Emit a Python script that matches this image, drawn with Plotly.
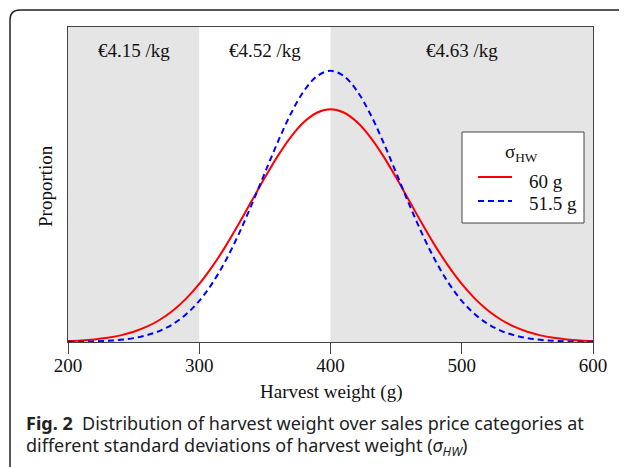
import plotly.graph_objects as go

# Harvest weight (g)
weight = [200, 210, 220, 230, 240, 250, 260, 270, 280, 290, 300, 310, 320, 330, 340, 350,
          360, 370, 380, 390, 400, 410, 420, 430, 440, 450, 460, 470, 480, 490, 500,
          510, 520, 530, 540, 550, 560, 570, 580, 590, 600]
# Proportion (x1000)
prop_60 = [0.026, 0.044, 0.074, 0.120, 0.190, 0.292, 0.437, 0.636, 0.900, 1.239, 1.658,
           2.159, 2.733, 3.367, 4.033, 4.698, 5.324, 5.868, 6.290, 6.557, 6.649,
           6.557, 6.290, 5.868, 5.324, 4.698, 4.033, 3.367, 2.733, 2.159, 1.658,
           1.239, 0.900, 0.636, 0.437, 0.292, 0.190, 0.120, 0.074, 0.044, 0.026]
prop_515 = [0.004, 0.009, 0.017, 0.033, 0.062, 0.111, 0.193, 0.320, 0.513, 0.792, 1.176,
            1.683, 2.318, 3.076, 3.930, 4.835, 5.729, 6.538, 7.184, 7.602, 7.747,
            7.602, 7.184, 6.538, 5.729, 4.835, 3.930, 3.076, 2.318, 1.683, 1.176,
            0.792, 0.513, 0.320, 0.193, 0.111, 0.062, 0.033, 0.017, 0.009, 0.004]
series_names = ["60 g", "51.5 g"]
series_colors = ["#ff0000", "#0000ff"]
series_dash = ["solid", "6px,4px"]

# Price categories
cat_bounds = [(200, 300), (300, 400), (400, 600)]
cat_labels = ["€4.15 /kg", "€4.52 /kg", "€4.63 /kg"]
cat_shaded = [True, False, True]
x_ticks = [200, 300, 400, 500, 600]

OFF = 8  # page body margin
W, H = 627 - OFF, 467 - OFF
L, R, T, B = 60, 34, 19, 125
pw, ph = W - L - R, H - T - B

def px(xp):
    return (xp - OFF - L) / pw

def py(yp):
    return ((H - B) - (yp - OFF)) / ph

serif = "Liberation Serif"
sans = "Noto Sans"
tc = "#111"

fig = go.Figure()
fig.add_trace(go.Scatter(x=weight, y=prop_60, mode="lines", name=series_names[0],
                         line=dict(color=series_colors[0], width=2, shape="spline")))
fig.add_trace(go.Scatter(x=weight, y=prop_515, mode="lines", name=series_names[1],
                         line=dict(color=series_colors[1], width=2, dash=series_dash[1],
                                   shape="spline")))

shapes = []
annotations = []
for (a, b), lab, sh in zip(cat_bounds, cat_labels, cat_shaded):
    if sh:
        shapes.append(dict(type="rect", xref="x", yref="paper", x0=a, x1=b, y0=0, y1=1,
                           fillcolor="#e5e5e5", line=dict(width=0), layer="below"))
    annotations.append(dict(x=(a + b) / 2, y=py(51), xref="x", yref="paper", text=lab,
                            showarrow=False, font=dict(family=serif, size=19, color=tc),
                            xanchor="center", yanchor="middle"))

# outer rounded frame
x0, yt = px(10), py(10)
rx, ry = 10 / pw, 10 / ph
path = (f"M {x0},{py(470)} L {x0},{yt - ry} Q {x0},{yt} {x0 + rx},{yt} "
        f"L {px(640)},{yt}")
shapes.append(dict(type="path", xref="paper", yref="paper", path=path,
                   line=dict(color="#222", width=1.5)))

# manual legend
shapes.append(dict(type="rect", xref="paper", yref="paper", x0=px(462), x1=px(584),
                   y0=py(223), y1=py(132), fillcolor="white",
                   line=dict(color="#444", width=1)))
annotations.append(dict(x=px(521), y=py(153), xref="paper", yref="paper",
                        text="σ<sub>HW</sub>", showarrow=False,
                        font=dict(family=serif, size=19, color=tc),
                        xanchor="center", yanchor="middle"))
leg_line_y = [177, 201]
leg_text_y = [181, 203]
for name, col, dash, ly, ty in zip(series_names, series_colors, series_dash,
                                   leg_line_y, leg_text_y):
    shapes.append(dict(type="line", xref="paper", yref="paper", x0=px(478), x1=px(512),
                       y0=py(ly), y1=py(ly),
                       line=dict(color=col, width=2, dash=dash)))
    annotations.append(dict(x=px(527), y=py(ty), xref="paper", yref="paper", text=name,
                            showarrow=False, font=dict(family=serif, size=19, color=tc),
                            xanchor="left", yanchor="middle"))

annotations.append(dict(x=px(45), y=py(186), xref="paper", yref="paper", text="Proportion",
                        textangle=-90, showarrow=False,
                        font=dict(family=serif, size=19, color=tc),
                        xanchor="center", yanchor="middle"))
annotations.append(dict(x=400, y=py(392), xref="x", yref="paper", text="Harvest weight (g)",
                        showarrow=False, font=dict(family=serif, size=19, color=tc),
                        xanchor="center", yanchor="middle"))
annotations.append(dict(x=px(24), y=py(423), xref="paper", yref="paper",
                        text="<b>Fig. 2</b>  Distribution of harvest weight over sales price categories at",
                        showarrow=False, font=dict(family=sans, size=18, color="#222"),
                        xanchor="left", yanchor="middle"))
annotations.append(dict(x=px(24), y=py(446), xref="paper", yref="paper",
                        text="different standard deviations of harvest weight (<i>σ<sub>HW</sub></i>)",
                        showarrow=False, font=dict(family=sans, size=18, color="#222"),
                        xanchor="left", yanchor="middle"))

fig.update_layout(
    width=W, height=H, margin=dict(l=L, r=R, t=T, b=B),
    paper_bgcolor="white", plot_bgcolor="white",
    shapes=shapes, annotations=annotations,
    showlegend=False,
)
fig.update_xaxes(range=[200, 600], tickvals=x_ticks, ticks="outside", ticklen=11,
                 tickcolor="#444", showline=True, linecolor="#444", mirror=True,
                 showgrid=False, zeroline=False, ticklabelstandoff=-5,
                 tickfont=dict(family=serif, size=19, color=tc))
fig.update_yaxes(range=[0, 9.0], showticklabels=False, ticks="", showline=True,
                 linecolor="#444", mirror=True, showgrid=False, zeroline=False)

fig.write_html("out.html")
